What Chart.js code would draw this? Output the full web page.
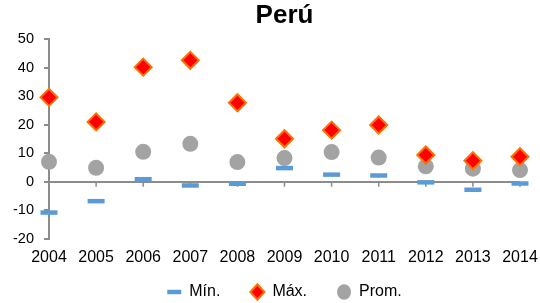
<!DOCTYPE html>
<html>
<head>
<meta charset="utf-8">
<script src="https://cdn.jsdelivr.net/npm/chart.js@4"></script>
<style>
  body { margin: 0; background: #fff; }
  #wrap { width: 540px; height: 303px; }
</style>
</head>
<body>
<div id="wrap"><canvas id="peruChart"></canvas></div>
<script>
var years = ['2004', '2005', '2006', '2007', '2008', '2009', '2010', '2011', '2012', '2013', '2014'];
var minValues = [-10.8, -6.8, 0.9, -1.3, -0.7, 4.8, 2.5, 2.2, -0.2, -2.8, -0.6];
var maxValues = [29.6, 21, 40.2, 42.6, 27.7, 15.1, 18.1, 19.9, 9.4, 7.4, 8.8];
var avgValues = [7, 4.9, 10.5, 13.3, 6.9, 8.3, 10.4, 8.5, 5.4, 4.6, 4.1];
var yTicks = [-20, -10, 0, 10, 20, 30, 40, 50];

// small tick marks hanging under the zero line
var zeroTicks = {
    id: 'zeroTicks',
    beforeDatasetsDraw: function(chart) {
        var c = chart.ctx, x = chart.scales.x, y0 = chart.scales.y.getPixelForValue(0);
        c.save();
        c.strokeStyle = '#8c8c8c';
        c.lineWidth = 1.5;
        years.forEach(function(_, i) {
            var px = x.getPixelForValue(i);
            c.beginPath();
            c.moveTo(px, y0);
            c.lineTo(px, y0 + 5);
            c.stroke();
        });
        c.restore();
    }
};

// legend keeps wide gaps between items but not the same big gap above/below
var legendBox = {
    id: 'legendBox',
    beforeLayout: function(chart) {
        var lg = chart.legend;
        if (lg && !lg._fitPatched) {
            var fit = lg.fit;
            lg.fit = function() {
                fit.call(this);
                this.height = 27;
            };
            lg._fitPatched = true;
        }
    },
    afterLayout: function(chart) {
        chart.legend.top = chart.height - 49;
    }
};

var ctx = document.getElementById('peruChart').getContext('2d');

var myChart = new Chart(ctx, {
    type: 'line',
    data: {
        labels: years,
        datasets: [{
            label: 'Mín.',
            data: minValues,
            showLine: false,
            pointStyle: 'line',
            pointRadius: 8.5,
            pointBorderWidth: 4.5,
            borderColor: '#5b9bd5',
            backgroundColor: '#5b9bd5',
            clip: false
        }, {
            label: 'Máx.',
            data: maxValues,
            showLine: false,
            pointStyle: 'rectRot',
            pointRadius: 8.5,
            pointBorderWidth: 2,
            borderColor: '#ff7000',
            backgroundColor: '#ff0000',
            clip: false
        }, {
            label: 'Prom.',
            data: avgValues,
            showLine: false,
            pointStyle: 'circle',
            pointRadius: 8,
            pointBorderWidth: 0,
            borderColor: '#a3a3a3',
            backgroundColor: '#a3a3a3',
            clip: false
        }]
    },
    options: {
        responsive: true,
        maintainAspectRatio: false,
        animation: false,
        layout: { padding: { left: 4, right: 0, top: 0, bottom: 0 } },
        plugins: {
            title: {
                display: true,
                text: 'Perú',
                fullSize: false,
                color: '#000',
                font: { family: 'Liberation Sans', size: 26, weight: 'bold' },
                padding: { top: 0, bottom: 8 }
            },
            legend: {
                position: 'bottom',
                fullSize: false,
                labels: {
                    usePointStyle: true,
                    pointStyleWidth: 14,
                    boxHeight: 11,
                    padding: 30,
                    color: '#000',
                    font: { family: 'Liberation Sans', size: 16 }
                }
            },
            tooltip: { enabled: false }
        },
        scales: {
            x: {
                offset: false,
                afterFit: function(axis) { axis.paddingRight = 20; },
                grid: { display: false, drawTicks: false },
                border: { display: false },
                ticks: {
                    color: '#000',
                    padding: 9,
                    maxRotation: 0,
                    font: { family: 'Liberation Sans', size: 16 }
                }
            },
            y: {
                min: -20,
                max: 50,
                afterBuildTicks: function(axis) {
                    axis.ticks = yTicks.map(function(v) { return { value: v }; });
                },
                afterFit: function(axis) { axis.width = 45; },
                border: { display: true, color: '#8c8c8c', width: 2 },
                grid: {
                    color: function(c) { return c.tick && c.tick.value === 0 ? '#8c8c8c' : 'rgba(0,0,0,0)'; },
                    lineWidth: 2,
                    tickColor: '#8c8c8c',
                    tickLength: 5
                },
                ticks: {
                    color: '#000',
                    padding: 10,
                    font: { family: 'Liberation Sans', size: 14.5 }
                }
            }
        }
    },
    plugins: [zeroTicks, legendBox]
});
</script>
</body>
</html>
